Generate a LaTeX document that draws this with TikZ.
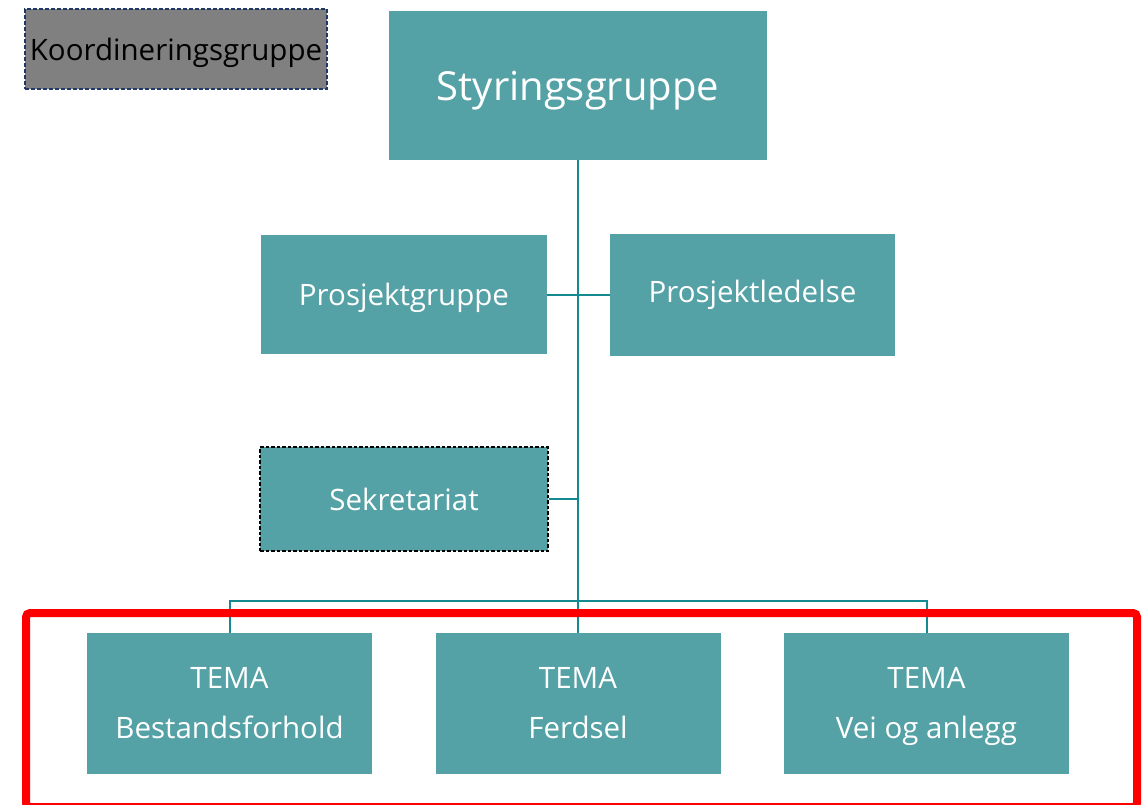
\documentclass[tikz,border=0pt]{standalone}
\usepackage{fontspec}
\setmainfont{Open Sans}
\definecolor{teal1}{HTML}{54A1A6}
\definecolor{line1}{HTML}{138A92}
\definecolor{navy1}{HTML}{203864}
\definecolor{gray1}{HTML}{808080}
\begin{document}
\begin{tikzpicture}[x=1pt,y=1pt,
  box/.style={fill=teal1,draw=none,text=white,inner sep=0pt,align=center,font=\fontsize{29.5}{50}\selectfont},
  conn/.style={draw=line1,line width=2pt}]
\useasboundingbox (0,0) rectangle (1148,-804);
\node[box,minimum width=378,minimum height=149,text depth=0pt,font=\fontsize{40}{44}\selectfont] (sty) at (578,-85.5) {Styringsgruppe};
\node[box,minimum width=286,minimum height=119,text depth=0pt] (pg) at (404,-294.5) {Prosjektgruppe};
\node[box,minimum width=285,minimum height=122] (pl) at (752.5,-294.5) {Prosjektledelse};
\node[box,minimum width=288,minimum height=104,draw=black,line width=1.3pt,dash pattern=on 3.5pt off 2pt] (sek) at (404,-499) {Sekretariat};
\node[box,minimum width=285,minimum height=141] (t1) at (229.5,-703.5) {\strut TEMA\\\strut Bestandsforhold};
\node[box,minimum width=285,minimum height=141] (t2) at (578,-703.5) {\strut TEMA\\\strut Ferdsel};
\node[box,minimum width=285,minimum height=141] (t3) at (926.5,-703.5) {\strut TEMA\\\strut Vei og anlegg};
\node[fill=gray1,draw=navy1,line width=1.6pt,dash pattern=on 4pt off 2pt,minimum width=302,minimum height=80,inner sep=0pt,text depth=0pt,font=\fontsize{29.5}{34}\selectfont] (koord) at (176,-49) {Koordineringsgruppe};
\coordinate (bus) at (578,-601);
\draw[conn] (sty.south) -- (t2.north);
\draw[conn] (pg.east) -- (pl.west);
\draw[conn] (sek.east) -- (sek.east -| sty.south);
\draw[conn] (t1.north) |- (bus) -| (t3.north);
\draw[red,line width=8pt,rounded corners=4pt] (26,-613) rectangle (1137,-807);
\end{tikzpicture}
\end{document}
